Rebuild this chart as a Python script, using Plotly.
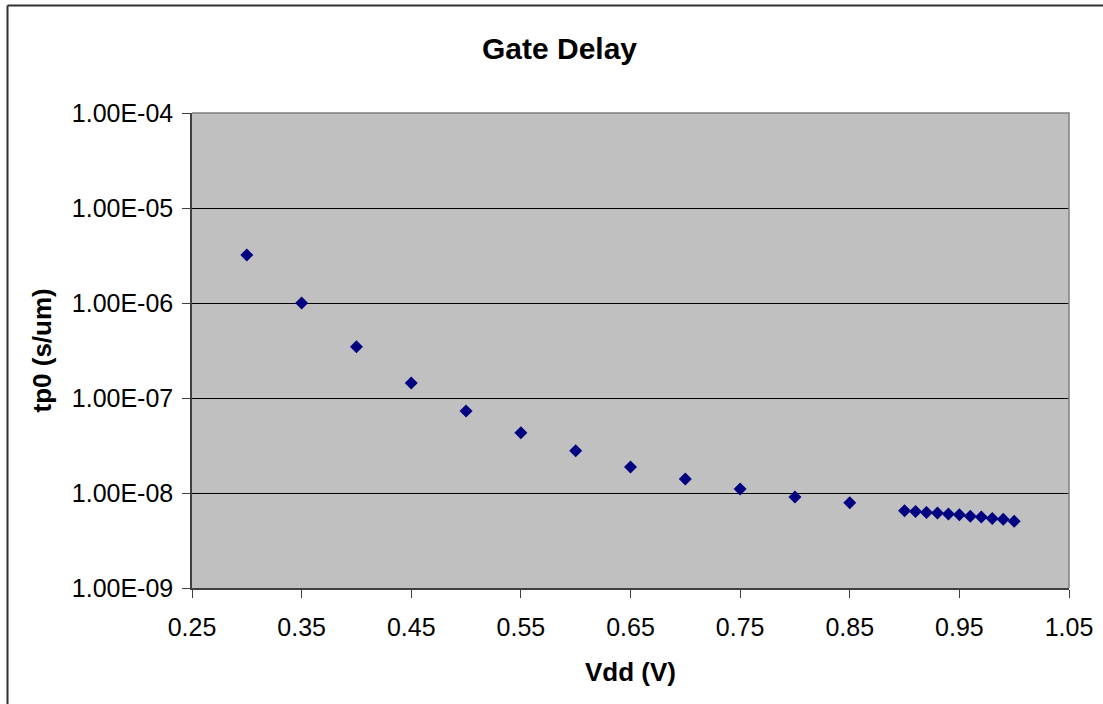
import plotly.graph_objects as go

# Supply voltage (V) and normalised gate delay tp0 (s/um)
vdd = [0.30, 0.35, 0.40, 0.45, 0.50, 0.55, 0.60, 0.65, 0.70, 0.75, 0.80, 0.85,
       0.90, 0.91, 0.92, 0.93, 0.94, 0.95, 0.96, 0.97, 0.98, 0.99, 1.00]
tp0 = [3.2e-6, 1.0e-6, 3.47e-7, 1.44e-7, 7.3e-8, 4.3e-8, 2.78e-8, 1.88e-8,
       1.40e-8, 1.10e-8, 9.1e-9, 7.9e-9,
       6.5e-9, 6.4e-9, 6.25e-9, 6.15e-9, 6.0e-9, 5.9e-9, 5.7e-9, 5.6e-9,
       5.4e-9, 5.3e-9, 5.05e-9]

y_tickvals = [1e-9, 1e-8, 1e-7, 1e-6, 1e-5, 1e-4]
y_ticktext = ["1.00E-09", "1.00E-08", "1.00E-07", "1.00E-06", "1.00E-05", "1.00E-04"]
x_tickvals = [0.25, 0.35, 0.45, 0.55, 0.65, 0.75, 0.85, 0.95, 1.05]
x_ticktext = ["0.25", "0.35", "0.45", "0.55", "0.65", "0.75", "0.85", "0.95", "1.05"]

FONT = "Liberation Sans, Arial, sans-serif"

fig = go.Figure()
fig.add_trace(go.Scatter(
    x=vdd, y=tp0, mode="markers",
    marker=dict(symbol="diamond", size=10, color="#000080",
                line=dict(width=0)),
    showlegend=False,
))

W, H = 1103, 704
L, R, T, B = 192, 34, 113, 116

fig.update_layout(
    width=W, height=H,
    margin=dict(l=L, r=R, t=T, b=B, autoexpand=False),
    paper_bgcolor="white",
    plot_bgcolor="#C0C0C0",
    font=dict(family=FONT, color="black"),
    title=dict(text="<b>Gate Delay</b>", font=dict(size=30, family=FONT, color="black"),
               x=559.5 / W, xref="container", xanchor="center",
               y=1 - 48 / H, yref="container", yanchor="middle"),
    xaxis=dict(range=[0.25, 1.05], tickvals=x_tickvals, ticktext=x_ticktext,
               showgrid=False, zeroline=False,
               ticks="outside", ticklen=8, tickcolor="#404040", tickwidth=1,
               ticklabelstandoff=8,
               tickfont=dict(size=25, family=FONT, color="black"),
               showline=True, linecolor="#404040", linewidth=1.5),
    yaxis=dict(type="log", range=[-9, -4], tickvals=y_tickvals, ticktext=y_ticktext,
               showgrid=True, gridcolor="black", gridwidth=1, zeroline=False,
               ticks="outside", ticklen=8, tickcolor="#404040", tickwidth=1,
               ticklabelstandoff=4,
               tickfont=dict(size=25, family=FONT, color="black"),
               showline=True, linecolor="#404040", linewidth=1.5),
)

pw = W - L - R
ph = H - T - B

def px_to_paper_x(px):
    return (px - L) / pw

def px_to_paper_y(py):
    return (H - B - py) / ph

# Axis titles
fig.add_annotation(text="<b>Vdd (V)</b>", x=0.5, y=px_to_paper_y(672),
                   xref="paper", yref="paper", showarrow=False,
                   xanchor="center", yanchor="middle",
                   font=dict(size=26, family=FONT, color="black"))
fig.add_annotation(text="<b>tp0 (s/um)</b>", x=px_to_paper_x(41), y=0.5,
                   xref="paper", yref="paper", showarrow=False, textangle=-90,
                   xanchor="center", yanchor="middle",
                   font=dict(size=26, family=FONT, color="black"))

# Light border along the top and right of the plot area
fig.add_shape(type="path", xref="paper", yref="paper",
              path="M 0 1 L 1 1 L 1 0",
              line=dict(color="#808080", width=1.5), layer="above")

# Outer chart frame: top and left edges, running off the page
x0 = px_to_paper_x(7.5)
y0 = px_to_paper_y(5.5)
x1 = px_to_paper_x(W)
y1 = px_to_paper_y(H)
fig.add_shape(type="line", xref="paper", yref="paper",
              x0=x0, y0=y1, x1=x0, y1=y0,
              line=dict(color="#303030", width=2), layer="above")
fig.add_shape(type="line", xref="paper", yref="paper",
              x0=x0, y0=y0, x1=x1, y1=y0,
              line=dict(color="#303030", width=2), layer="above")

fig.write_html("out.html")
